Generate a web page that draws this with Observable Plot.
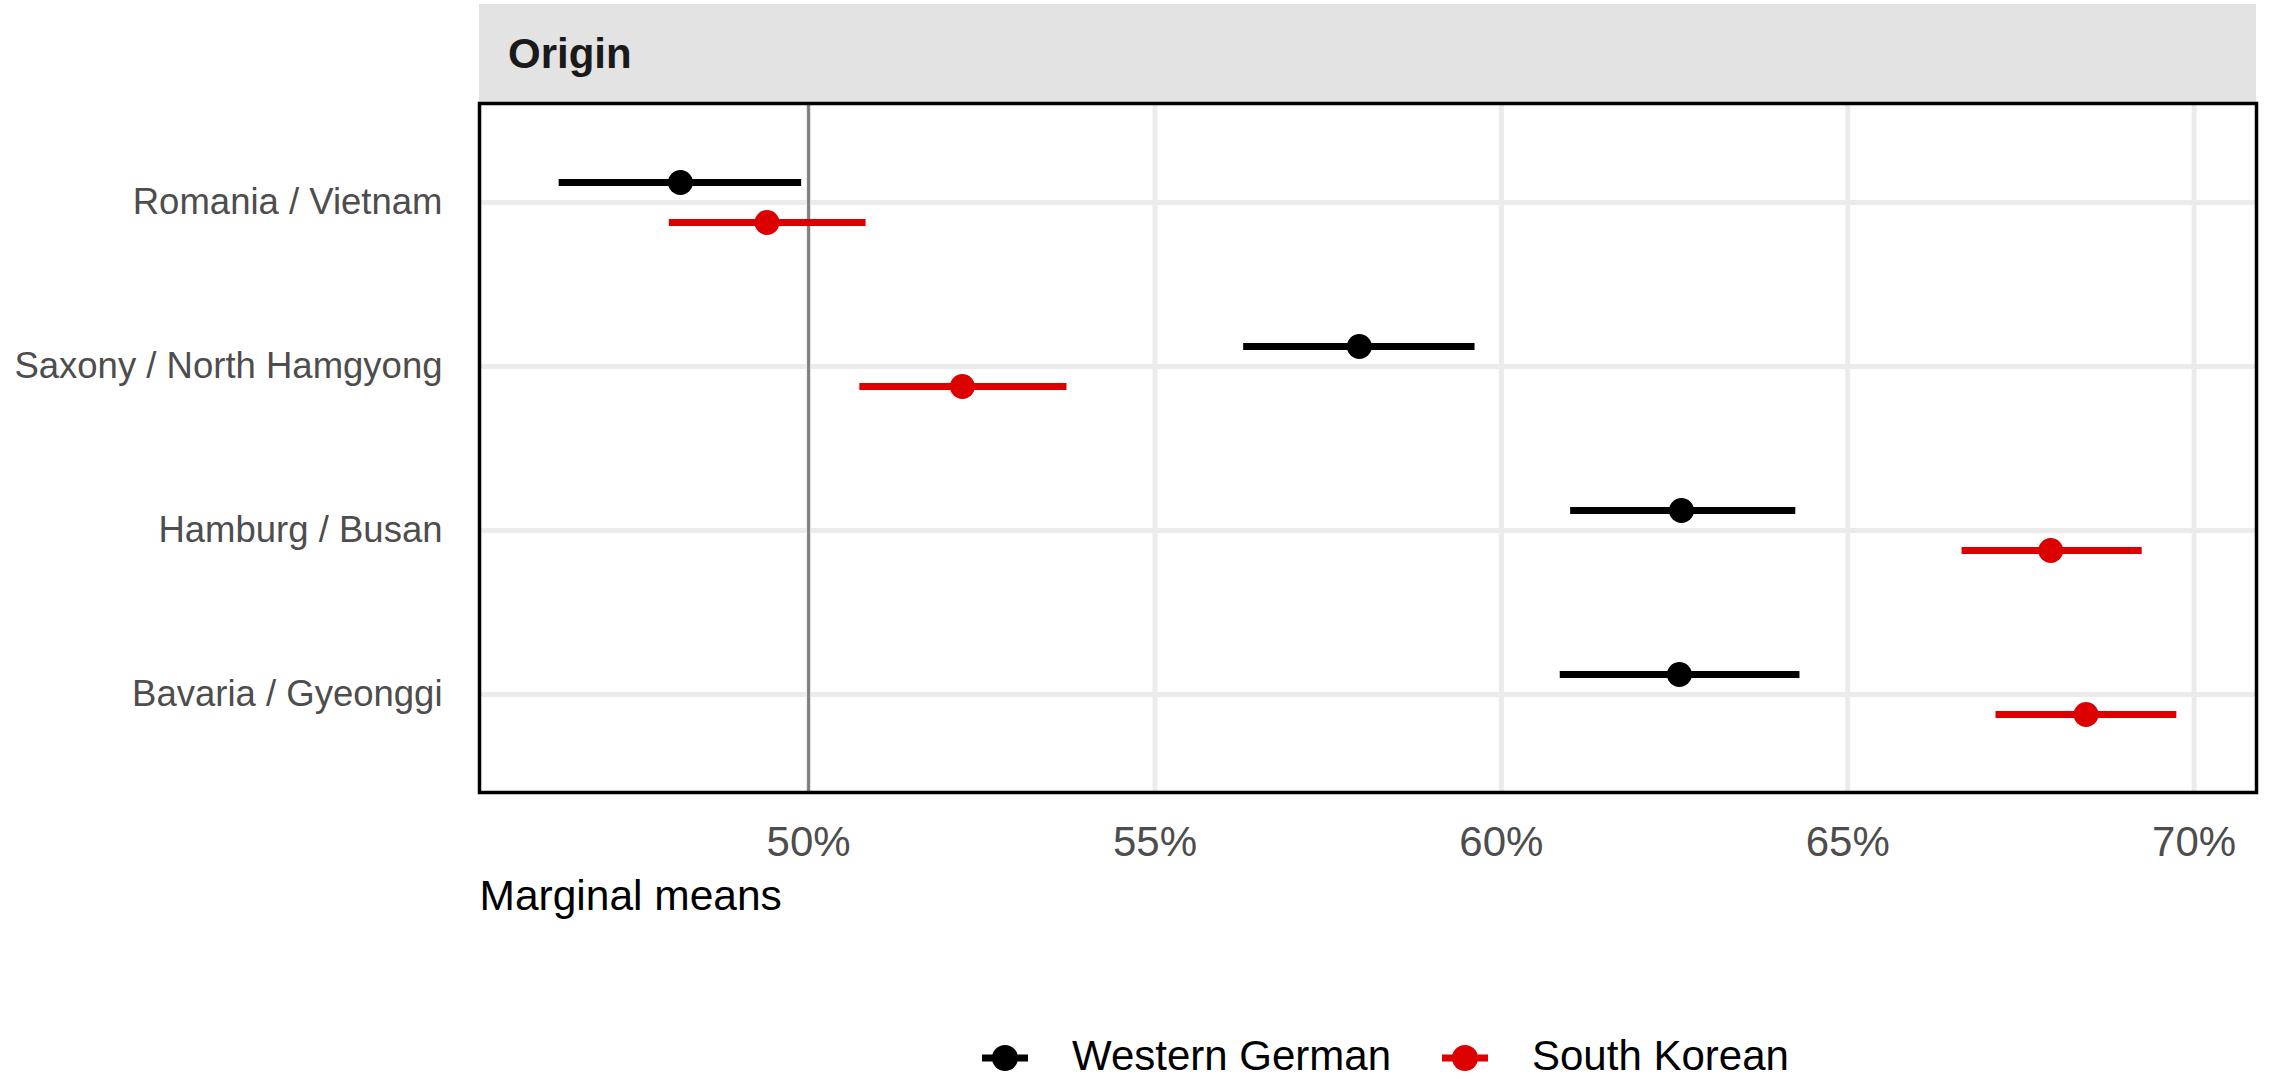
<!DOCTYPE html>
<html>
<head>
<meta charset="utf-8">
<script src="https://cdn.jsdelivr.net/npm/d3@7"></script>
<script src="https://cdn.jsdelivr.net/npm/@observablehq/plot@0.6"></script>
<style>
  html, body { margin: 0; padding: 0; background: #ffffff; }
  #chart {
    position: relative; width: 2275px; height: 1079px; overflow: hidden;
    font-family: "Liberation Sans", Arial, Helvetica, sans-serif; background: #ffffff;
  }
  #strip {
    position: absolute; left: 479px; top: 4px; width: 1777px; height: 99px;
    background: #e3e3e3; box-sizing: border-box; padding-left: 29px;
    display: flex; align-items: center;
    font-weight: bold; font-size: 42px; color: #1a1a1a;
  }
  #plot { position: absolute; left: 0; top: 101px; }
  #legend { position: absolute; left: 0; top: 1035px; width: 2275px; height: 42px; }
  .item { position: absolute; top: 0; height: 42px; display: flex; align-items: center; }
  .item svg { display: block; }
  .item span { font-size: 42px; line-height: 42px; color: #000; margin-left: 44px; }
</style>
</head>
<body>
<div id="chart">
  <div id="strip">Origin</div>
  <div id="plot"></div>
  <div id="legend"></div>
</div>
<script>
// Marginal means (percent) with 95% intervals, by region pair and respondent group
const categories = ["Romania / Vietnam", "Saxony / North Hamgyong", "Hamburg / Busan", "Bavaria / Gyeonggi"];
const westernEstimate = [48.15, 57.95, 62.60, 62.57];
const westernLower    = [46.40, 56.28, 61.00, 60.85];
const westernUpper    = [49.90, 59.62, 64.25, 64.31];
const koreanEstimate  = [49.40, 52.22, 67.93, 68.44];
const koreanLower     = [47.99, 50.74, 66.65, 67.14];
const koreanUpper     = [50.83, 53.73, 69.25, 69.75];
const seriesNames  = ["Western German", "South Korean"];
const seriesColors = ["#000000", "#dd0000"];
const xTicks = [50, 55, 60, 65, 70];
const xTitle = "Marginal means";

const FONT = '"Liberation Sans", Arial, Helvetica, sans-serif';

function rows(est, lo, hi, series) {
  return categories.map((c, i) => ({category: c, estimate: est[i], lower: lo[i], upper: hi[i], series}));
}
const western = rows(westernEstimate, westernLower, westernUpper, seriesNames[0]);
const korean  = rows(koreanEstimate, koreanLower, koreanUpper, seriesNames[1]);

// each group is nudged up (Western German) or down (South Korean) from its row
const groups = [
  {data: western, color: seriesColors[0], dy: -20},
  {data: korean,  color: seriesColors[1], dy: 20}
];

const groupMarks = groups.flatMap(g => [
  Plot.ruleY(g.data, {y: "category", x1: "lower", x2: "upper", dy: g.dy, stroke: g.color, strokeWidth: 7}),
  Plot.dot(g.data, {x: "estimate", y: "category", dy: g.dy, r: 12.5, fill: g.color, stroke: "none"})
]);

const svg = Plot.plot({
  width: 2275,
  height: 817,
  marginLeft: 479,
  marginRight: 19,
  marginTop: 2,
  marginBottom: 126,
  style: {fontFamily: FONT, fontSize: "36px", background: "transparent", overflow: "visible"},
  x: {domain: [45.25, 70.9]},
  y: {type: "point", domain: categories, padding: 0.6},
  marks: [
    Plot.gridX({ticks: xTicks, stroke: "#ebebeb", strokeWidth: 5, strokeOpacity: 1}),
    Plot.gridY({ticks: categories, stroke: "#ebebeb", strokeWidth: 5, strokeOpacity: 1}),
    Plot.ruleX([50], {stroke: "#7f7f7f", strokeWidth: 3}),
    ...groupMarks,
    Plot.frame({stroke: "#000000", strokeWidth: 3.5}),
    Plot.axisX({ticks: xTicks, tickSize: 0, tickPadding: 34, fontSize: 42, fill: "#4d4d4d",
                tickFormat: d => d + "%", label: null}),
    Plot.axisY({tickSize: 0, tickPadding: 37, fontSize: 36.5, fill: "#4d4d4d", label: null}),
    Plot.text([xTitle], {text: d => d, frameAnchor: "bottom-left", textAnchor: "start",
                         lineAnchor: "middle", dy: 104, fontSize: 42.5, fill: "#000000"})
  ]
});
document.getElementById("plot").appendChild(svg);

// legend: line + point key for each group
const legend = document.getElementById("legend");
const keyCenters = [1005, 1465];
seriesNames.forEach((name, i) => {
  const item = document.createElement("div");
  item.className = "item";
  item.style.left = (keyCenters[i] - 23) + "px";
  item.innerHTML =
    `<svg width="46" height="42" viewBox="0 0 46 42">
       <line x1="0" x2="46" y1="23" y2="23" stroke="${seriesColors[i]}" stroke-width="7"/>
       <circle cx="23" cy="23" r="13" fill="${seriesColors[i]}"/>
     </svg><span>${name}</span>`;
  legend.appendChild(item);
});
</script>
</body>
</html>
